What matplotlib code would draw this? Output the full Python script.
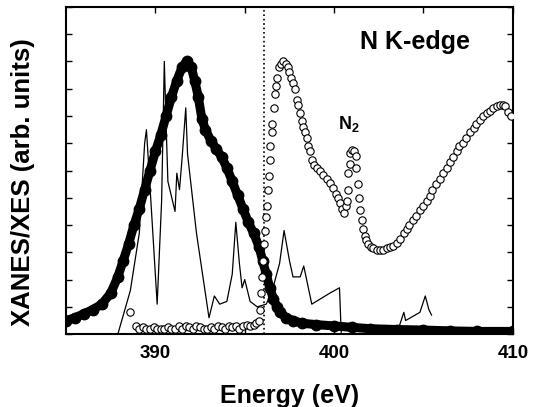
import numpy as np
import matplotlib
matplotlib.use("Agg")
import matplotlib.pyplot as plt

plt.rcParams['font.family'] = ['Liberation Sans', 'DejaVu Sans']
plt.rcParams['mathtext.fontset'] = 'custom'
plt.rcParams['mathtext.bf'] = 'Liberation Sans:bold'
plt.rcParams['mathtext.rm'] = 'Liberation Sans:bold'

# XES (filled circles)
xes_x = [385.0, 385.5, 386.0, 386.5, 387.0, 387.5, 387.9, 388.2, 388.5, 388.8,
         389.1, 389.4, 389.7, 390.0, 390.3, 390.6, 390.9, 391.2, 391.5, 391.75,
         392.0, 392.2, 392.4, 392.6, 392.8, 393.1, 393.4, 393.7, 394.0, 394.3,
         394.6, 394.9, 395.2, 395.5, 395.8, 396.0, 396.2, 396.4, 396.6, 396.8,
         397.0, 397.3, 397.7, 398.2, 399.0, 400.0, 401.0, 402.0, 403.5, 405.0,
         406.5, 408.0, 410.0]
xes_y = [0.05, 0.06, 0.075, 0.09, 0.11, 0.15, 0.21, 0.27, 0.33, 0.40,
         0.46, 0.53, 0.60, 0.67, 0.73, 0.80, 0.87, 0.93, 0.98, 1.0,
         0.98, 0.93, 0.87, 0.79, 0.75, 0.71, 0.68, 0.65, 0.61, 0.56,
         0.51, 0.46, 0.41, 0.37, 0.32, 0.27, 0.22, 0.17, 0.13, 0.10,
         0.08, 0.06, 0.05, 0.04, 0.035, 0.03, 0.025, 0.02, 0.017, 0.015,
         0.012, 0.01, 0.01]

# XANES (open circles)
xanes_x = [388.6, 388.9, 389.1, 389.3, 389.5, 389.7, 389.9, 390.1, 390.3, 390.5,
           390.7, 390.9, 391.1, 391.3, 391.5, 391.7, 391.9, 392.1, 392.3, 392.5,
           392.7, 392.9, 393.1, 393.3, 393.5, 393.7, 393.9, 394.1, 394.3, 394.5,
           394.7, 394.9, 395.1, 395.3, 395.5, 395.65, 395.77, 395.84, 395.9, 395.98,
           396.02, 396.07, 396.14, 396.2, 396.23, 396.3, 396.35, 396.4, 396.44, 396.5,
           396.55, 396.62, 396.68, 396.73, 396.8, 396.9, 397.05, 397.15, 397.3, 397.4,
           397.5, 397.6, 397.7, 397.8, 397.9, 398.0, 398.1, 398.2, 398.27, 398.37,
           398.47, 398.56, 398.65, 398.78, 398.9, 399.05, 399.2, 399.4, 399.6, 399.78,
           399.95, 400.1, 400.2, 400.33, 400.45, 400.55, 400.65, 400.7, 400.75, 400.8,
           400.87, 400.9, 401.0, 401.1, 401.2, 401.25, 401.33, 401.4, 401.45, 401.55,
           401.6, 401.7, 401.8, 401.9, 402.05, 402.2, 402.4, 402.55, 402.75, 402.95,
           403.1, 403.3, 403.5, 403.7, 403.9, 404.05, 404.2, 404.4, 404.6, 404.8,
           405.0, 405.2, 405.35, 405.5, 405.7, 405.9, 406.1, 406.3, 406.5, 406.65,
           406.85, 407.0, 407.2, 407.4, 407.6, 407.8, 407.95, 408.15, 408.35, 408.55,
           408.7, 408.9, 409.1, 409.3, 409.45, 409.55, 409.7, 409.9]
xanes_y = [0.08, 0.03, 0.02, 0.025, 0.02, 0.02, 0.025, 0.02, 0.02, 0.02,
           0.025, 0.02, 0.02, 0.03, 0.02, 0.03, 0.025, 0.02, 0.03, 0.025,
           0.02, 0.02, 0.025, 0.02, 0.03, 0.025, 0.02, 0.03, 0.025, 0.03,
           0.02, 0.03, 0.035, 0.03, 0.035, 0.04, 0.05, 0.088, 0.15, 0.21,
           0.27, 0.33, 0.38, 0.43, 0.47, 0.53, 0.58, 0.64, 0.69, 0.74,
           0.77, 0.83, 0.88, 0.91, 0.94, 0.98, 0.99, 1.0, 0.99, 0.98,
           0.96, 0.94, 0.92, 0.90, 0.86, 0.84, 0.81, 0.78, 0.76, 0.74,
           0.72, 0.69, 0.67, 0.64, 0.62, 0.61, 0.60, 0.585, 0.57, 0.555,
           0.535, 0.515, 0.50, 0.48, 0.46, 0.445, 0.47, 0.49, 0.53, 0.59,
           0.625, 0.665, 0.675, 0.67, 0.655, 0.61, 0.55, 0.50, 0.455, 0.42,
           0.385, 0.36, 0.345, 0.33, 0.32, 0.315, 0.31, 0.31, 0.31, 0.315,
           0.32, 0.325, 0.335, 0.35, 0.37, 0.385, 0.40, 0.42, 0.435, 0.455,
           0.47, 0.49, 0.505, 0.53, 0.55, 0.57, 0.59, 0.61, 0.63, 0.65,
           0.67, 0.69, 0.70, 0.72, 0.74, 0.755, 0.77, 0.785, 0.80, 0.81,
           0.82, 0.83, 0.835, 0.84, 0.84, 0.835, 0.815, 0.80]

# calculated spectrum (thin line)
calc_x1 = [387.9, 388.6, 389.1, 389.4, 389.5, 389.7, 390.1, 390.35, 390.5, 390.6,
           390.7, 391.1, 391.2, 391.35, 391.5, 391.7, 391.8, 392.3, 393.0, 393.3,
           393.6, 394.0, 394.3, 394.5, 394.7, 394.85, 395.0, 395.3, 395.7, 396.2,
           396.5, 396.95, 397.2, 397.5, 397.7, 398.1, 398.3, 398.75, 399.75, 400.3,
           400.4]
calc_y1 = [0.0, 0.16, 0.37, 0.70, 0.75, 0.54, 0.11, 0.49, 1.0, 0.77,
           0.56, 0.45, 0.59, 0.53, 0.65, 0.83, 0.66, 0.37, 0.06, 0.14,
           0.11, 0.12, 0.22, 0.41, 0.26, 0.17, 0.20, 0.12, 0.10, 0.11,
           0.15, 0.26, 0.38, 0.27, 0.21, 0.21, 0.25, 0.11, 0.15, 0.17,
           0.0]
calc_x2 = [403.25, 403.65, 403.9, 404.0, 404.8, 405.1, 405.3, 405.45]
calc_y2 = [0.0, 0.03, 0.08, 0.05, 0.08, 0.14, 0.09, 0.07]

edge_x = 396.05

fig = plt.figure(figsize=(5.41, 4.07), dpi=100)
ax = fig.add_axes([0.122, 0.179, 0.826, 0.804])

ax.plot(xes_x, xes_y, color='black', lw=6.5, solid_capstyle='round', zorder=3)
ax.plot(xes_x, xes_y, 'o', color='black', ms=7.5, zorder=3)
ax.plot(xanes_x, xanes_y, 'o', mfc='white', mec='black', ms=5.3, mew=0.8, zorder=4)
ax.plot(calc_x1, calc_y1, color='black', lw=0.9, zorder=2)
ax.plot(calc_x2, calc_y2, color='black', lw=0.9, zorder=2)
ax.axvline(edge_x, color='black', ls=':', lw=1.2, zorder=1)

ax.text(404.5, 1.07, 'N K-edge', fontsize=18, fontweight='bold', ha='center', va='center')
ax.text(400.85, 0.77, r'N$_\mathbf{2}$', fontsize=13, fontweight='bold', ha='center', va='center')

ax.set_xlim(385, 410)
ax.set_ylim(0, 1.2)
ax.set_xticks([390, 400, 410])
ax.set_xticks([395, 405], minor=True)
ax.set_yticks(np.arange(0, 1.21, 0.1))
ax.set_yticklabels([])
ax.tick_params(which='both', direction='in', top=True, right=True, length=4, width=1)
ax.tick_params(axis='x', labelsize=13.5, pad=8)
for lab in ax.get_xticklabels():
    lab.set_fontweight('bold')
for s in ax.spines.values():
    s.set_linewidth(1.5)

ax.set_xlabel('Energy (eV)', fontsize=18, fontweight='bold', labelpad=16)
ax.set_ylabel('XANES/XES (arb. units)', fontsize=18.5, fontweight='bold')
ax.yaxis.set_label_coords(-0.069, 0.465)

fig.savefig('out.png', dpi=100)
